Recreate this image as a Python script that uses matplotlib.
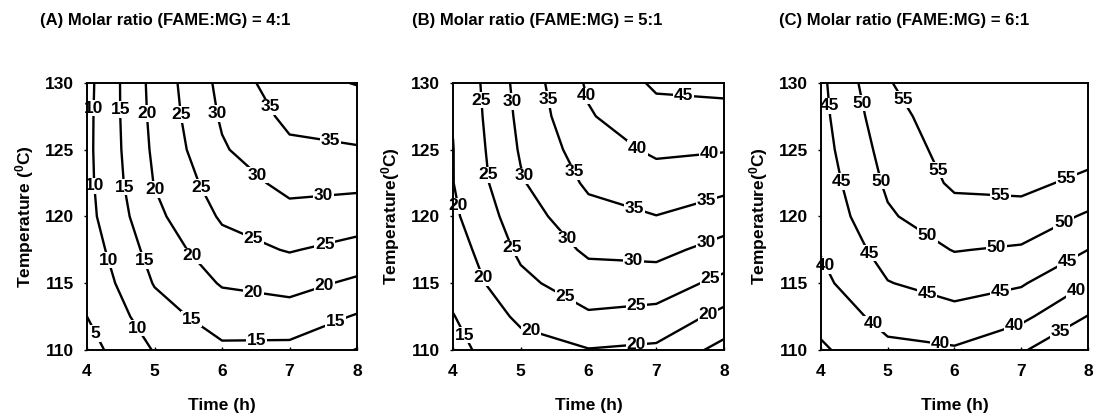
import numpy as np
import matplotlib
matplotlib.use('Agg')
import matplotlib.pyplot as plt

plt.rcParams['font.family'] = ['Liberation Sans', 'DejaVu Sans']
plt.rcParams['font.weight'] = 'bold'
plt.rcParams['mathtext.fontset'] = 'custom'
plt.rcParams['mathtext.bf'] = 'Liberation Sans:bold'
plt.rcParams['mathtext.rm'] = 'Liberation Sans:bold'

# grid: rows = temperature, columns = time
times = [4, 5, 6, 7, 8]
temps = [110, 112.5, 115, 117.5, 120, 122.5, 125, 127.5, 130]

yield_a = [
    [3.2, 10.3, 14.1, 13.8, 9.8],
    [5.0, 12.8, 17.3, 17.8, 14.6],
    [6.2, 15.3, 20.4, 21.6, 19.1],
    [7.4, 17.0, 23.2, 25.3, 23.4],
    [8.5, 18.8, 25.6, 28.5, 27.4],
    [8.8, 20.2, 27.5, 31.3, 31.1],
    [8.9, 20.9, 29.5, 34.0, 34.6],
    [8.8, 21.4, 30.6, 36.2, 37.5],
    [8.6, 21.7, 31.4, 38.5, 40.2],
]
yield_b = [
    [13.8, 18.0, 19.8, 19.1, 13.3],
    [14.8, 21.0, 24.3, 23.4, 18.5],
    [16.6, 23.8, 27.8, 27.6, 23.6],
    [17.6, 26.0, 30.8, 31.4, 28.2],
    [19.1, 27.7, 33.4, 34.9, 32.5],
    [19.9, 29.5, 35.8, 37.9, 36.5],
    [19.9, 30.5, 37.7, 40.8, 40.3],
    [20.2, 31.2, 39.6, 43.3, 43.4],
    [20.4, 31.8, 40.7, 45.8, 46.4],
]
yield_c = [
    [34.3, 38.8, 39.5, 35.5, 30.3],
    [36.5, 41.8, 43.4, 41.2, 34.8],
    [38.8, 44.8, 46.9, 45.5, 40.0],
    [40.3, 47.1, 50.2, 49.4, 45.0],
    [41.5, 49.4, 53.1, 53.2, 49.3],
    [42.4, 50.8, 55.8, 56.2, 53.8],
    [43.2, 51.9, 57.0, 57.3, 56.8],
    [43.7, 53.2, 58.0, 58.2, 58.3],
    [44.0, 54.7, 58.7, 58.8, 59.3],
]
levels = [5, 10, 15, 20, 25, 30, 35, 40, 45, 50, 55]

titles = ['(A) Molar ratio (FAME:MG) = 4:1',
          '(B) Molar ratio (FAME:MG) = 5:1',
          '(C) Molar ratio (FAME:MG) = 6:1']
ylabels = [r'Temperature ($\mathbf{^{0}}$C)',
           r'Temperature($\mathbf{^{0}}$C)',
           r'Temperature($\mathbf{^{0}}$C)']

# where the contour labels sit (time, temperature)
label_pos_a = [(4.12, 128.1), (4.49, 128.0), (4.86, 127.7), (5.35, 127.6), (5.90, 127.7),
               (6.71, 128.2), (7.60, 125.6), (4.12, 122.3), (4.57, 122.2), (5.01, 122.0),
               (5.67, 122.1), (6.51, 123.0), (7.50, 121.5), (4.30, 116.7), (4.84, 116.7),
               (5.53, 116.9), (6.44, 118.1), (7.52, 118.0), (6.46, 114.2), (7.52, 114.7),
               (5.53, 112.2), (6.51, 110.7), (7.69, 112.0), (4.71, 111.5), (4.12, 111.2)]
label_pos_b = [(4.40, 128.7), (4.87, 128.6), (5.36, 128.7), (5.95, 129.0), (7.40, 129.0),
               (4.50, 123.1), (5.02, 123.0), (5.73, 123.2), (6.71, 125.0), (7.79, 124.7),
               (4.08, 120.8), (4.85, 117.6), (5.66, 118.2), (6.66, 120.3), (7.74, 121.2),
               (4.43, 115.4), (5.63, 113.7), (6.66, 116.6), (7.74, 118.1),
               (4.21, 111.2), (5.12, 110.9), (6.71, 113.2), (7.79, 115.4), (6.71, 110.3),
               (7.77, 112.6)]
label_pos_c = [(4.16, 128.3), (4.64, 128.5), (5.14, 128.5), (4.29, 122.6), (4.86, 122.6),
               (5.68, 123.3), (4.09, 116.4), (4.71, 117.2), (5.58, 118.5), (6.68, 121.3),
               (7.68, 122.8), (4.79, 112.0), (5.58, 114.1), (6.63, 117.6), (7.63, 119.6),
               (5.78, 110.4), (6.68, 114.5), (7.70, 116.6), (6.90, 111.7), (7.83, 114.5),
               (7.58, 111.4)]

fig = plt.figure(figsize=(10.99, 4.18), dpi=100)
lefts = [0.0792, 0.4122, 0.747]
widths = [0.2457, 0.2466, 0.2430]
title_x = [0.150, 0.489, 0.823]

for i, (z, pos) in enumerate(zip([yield_a, yield_b, yield_c],
                                 [label_pos_a, label_pos_b, label_pos_c])):
    ax = fig.add_axes([lefts[i], 0.1627, widths[i], 0.639])
    cs = ax.contour(times, temps, np.array(z), levels=levels, colors='black', linewidths=1.7)
    labels = ax.clabel(cs, fmt='%d', fontsize=12.5, inline=False, manual=pos)
    for t in labels:
        t.set_rotation(0)
        t.set_fontweight('bold')
        t.set_bbox(dict(facecolor='white', edgecolor='none', pad=0.5))
        t.set_zorder(5)
        t.set_clip_on(False)
    ax.set_xlim(4, 8)
    ax.set_ylim(110, 130)
    ax.set_xticks([4, 5, 6, 7, 8])
    ax.set_yticks([110, 115, 120, 125, 130])
    ax.tick_params(axis='y', direction='out', length=2.5, width=1, pad=7, labelsize=12.5)
    ax.tick_params(axis='x', direction='in', length=2.5, width=1, pad=10, labelsize=12.5)
    for lab in ax.get_xticklabels() + ax.get_yticklabels():
        lab.set_fontweight('bold')
    for s in ax.spines.values():
        s.set_linewidth(1.4)
        s.set_zorder(6)
    ax.set_xlabel('Time (h)', fontsize=12.5, fontweight='bold', labelpad=14)
    ax.set_ylabel(ylabels[i], fontsize=12.5, fontweight='bold', labelpad=6)
    fig.text(title_x[i], 0.952, titles[i], fontsize=12, ha='center', va='center',
             family=['Liberation Sans Narrow', 'Liberation Sans'], weight='bold')

fig.savefig('out.png', dpi=100)
